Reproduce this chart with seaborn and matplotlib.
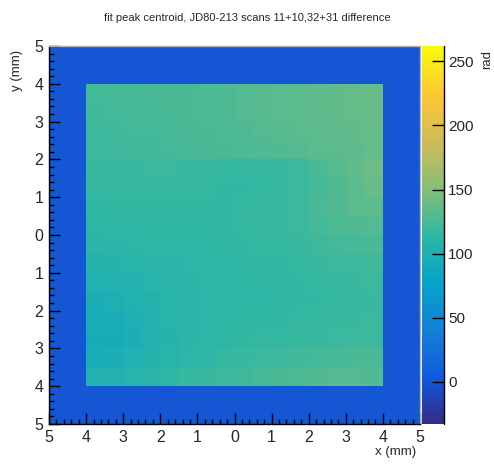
import numpy as np
import matplotlib
matplotlib.use("Agg")
import matplotlib.pyplot as plt
from matplotlib.colors import LinearSegmentedColormap
from matplotlib.ticker import FixedLocator, FuncFormatter
import seaborn as sns

# Axis range (mm) and the 0.5 mm cell grid of the map
x_range = (-5.0, 5.0)
y_range = (-5.0, 5.0)
cell = 0.5
outside_value = 0.0  # empty bins around the scanned area

# Colour scale limits (rad)
z_min, z_max = -33.0, 262.0
cbar_ticks = [0, 50, 100, 150, 200, 250]

# Fit peak centroid difference (rad), scanned area x,y in [-4, 4] mm
# rows go from y = 4 (top) down to y = -4, columns from x = -4 to x = 4
inner_values = [
    [123, 124, 124, 125, 126, 126, 127, 128, 130, 131, 132, 134, 135, 136, 137, 138],
    [122, 123, 124, 124, 125, 126, 127, 128, 130, 131, 132, 134, 135, 136, 137, 138],
    [121, 122, 123, 123, 124, 125, 126, 127, 128, 130, 131, 132, 134, 135, 136, 137],
    [120, 121, 122, 122, 123, 124, 125, 126, 127, 128, 129, 130, 132, 134, 135, 137],
    [118, 119, 119, 120, 120, 119, 118, 117, 117, 118, 119, 121, 125, 131, 136, 140],
    [117, 118, 118, 118, 118, 118, 117, 116, 116, 117, 118, 120, 124, 129, 134, 138],
    [115, 116, 116, 116, 116, 116, 116, 116, 117, 118, 119, 121, 125, 129, 132, 134],
    [113, 114, 114, 115, 115, 115, 115, 116, 117, 118, 118, 120, 123, 127, 129, 130],
    [110, 111, 112, 113, 113, 114, 114, 115, 116, 117, 117, 118, 121, 123, 124, 125],
    [106, 107, 109, 110, 111, 112, 113, 114, 115, 116, 116, 117, 118, 120, 121, 122],
    [102, 103, 105, 108, 110, 111, 112, 113, 114, 115, 115, 116, 117, 118, 119, 120],
    [98, 99, 102, 106, 109, 110, 112, 113, 114, 114, 115, 116, 116, 117, 118, 119],
    [95, 95, 99, 104, 108, 110, 112, 114, 115, 115, 116, 117, 117, 118, 119, 120],
    [93, 94, 98, 103, 107, 110, 112, 114, 116, 117, 117, 118, 119, 120, 120, 121],
    [96, 98, 102, 106, 109, 112, 115, 117, 119, 120, 121, 122, 123, 124, 125, 125],
    [103, 105, 108, 111, 114, 117, 119, 120, 122, 124, 126, 128, 129, 130, 130, 129],
]

# ROOT "kBird" palette
bird_stops = [0.0, 0.125, 0.25, 0.375, 0.5, 0.625, 0.75, 0.875, 1.0]
bird_red = [0.2082, 0.0592, 0.0780, 0.0232, 0.1802, 0.5301, 0.8186, 0.9956, 0.9764]
bird_green = [0.1664, 0.3599, 0.5041, 0.6419, 0.7178, 0.7492, 0.7328, 0.7862, 0.9832]
bird_blue = [0.5293, 0.8684, 0.8385, 0.7914, 0.6425, 0.4662, 0.3499, 0.1968, 0.0539]
bird = LinearSegmentedColormap.from_list(
    "bird", list(zip(bird_stops, zip(bird_red, bird_green, bird_blue))), N=256)

# full map: empty ring around the scanned square
n = int((x_range[1] - x_range[0]) / cell)
inner = np.array(inner_values, dtype=float)
pad = (n - inner.shape[0]) // 2
grid = np.full((n, n), outside_value)
grid[pad:pad + inner.shape[0], pad:pad + inner.shape[1]] = inner

sns.set_style("ticks")
plt.rcParams["font.family"] = ["Liberation Sans", "DejaVu Sans"]

fig = plt.figure(figsize=(4.94, 4.72), dpi=100)
ax = fig.add_axes([0.0992, 0.1017, 0.7510, 0.8008])
cax = fig.add_axes([0.8543, 0.1017, 0.0445, 0.8008])

sns.heatmap(grid, ax=ax, cbar_ax=cax, cmap=bird, vmin=z_min, vmax=z_max,
            xticklabels=False, yticklabels=False,
            cbar_kws={"ticks": cbar_ticks})


# data coordinates -> heatmap cell positions
def xpos(v):
    return (v - x_range[0]) / cell


def ypos(v):
    return (y_range[1] - v) / cell


major = np.arange(-5, 6, 1)
minor = np.round(np.arange(-5, 5.01, 0.2), 2)
ax.set_axisbelow(False)
ax.xaxis.set_major_locator(FixedLocator([xpos(v) for v in major]))
ax.xaxis.set_minor_locator(FixedLocator([xpos(v) for v in minor]))
ax.yaxis.set_major_locator(FixedLocator([ypos(v) for v in major]))
ax.yaxis.set_minor_locator(FixedLocator([ypos(v) for v in minor]))
ax.xaxis.set_major_formatter(FuncFormatter(lambda p, _: "%d" % abs(round(p * cell + x_range[0]))))
ax.yaxis.set_major_formatter(FuncFormatter(lambda p, _: "%d" % abs(round(y_range[1] - p * cell))))
ax.tick_params(which="major", direction="in", length=8, width=1.0, labelsize=11.5,
               color="black", pad=4, top=False, right=False, left=True, bottom=True)
ax.tick_params(which="minor", direction="in", length=3.8, width=1.0,
               color="black", top=False, right=False, left=True, bottom=True)
ax.tick_params(axis="x", which="major", pad=4)

for side, s in ax.spines.items():
    s.set_visible(True)
    s.set_zorder(5)
    if side in ("top", "right"):
        s.set_color("#b0b0b0")
    else:
        s.set_color("black")
    s.set_linewidth(1.0)

ax.set_xlabel("")
ax.set_ylabel("")

# colour bar
cbar = ax.collections[0].colorbar
cbar.outline.set_visible(False)
cax.set_axisbelow(False)
cax.yaxis.set_ticks_position("right")
cax.tick_params(direction="in", length=9, width=1.0, labelsize=11, color="black",
                right=True, left=False, pad=3)
cax.plot([1, 1], [0, 1], transform=cax.transAxes, color="black", lw=1.0, clip_on=False)
cax.minorticks_off()

fig.text(0.5, 1 - 18 / 472, "fit peak centroid, JD80-213 scans 11+10,32+31 difference",
         ha="center", va="center", fontsize=8)
fig.text(416 / 494, 1 - 452 / 472, "x (mm)", ha="right", va="center", fontsize=9.5)
fig.text(17 / 494, 1 - 50 / 472, "y (mm)", ha="center", va="top", rotation=90, fontsize=9.5)
fig.text(487 / 494, 1 - 50 / 472, "rad", ha="center", va="top", rotation=90, fontsize=9.5)

fig.savefig("out.png", dpi=100, facecolor="white")
